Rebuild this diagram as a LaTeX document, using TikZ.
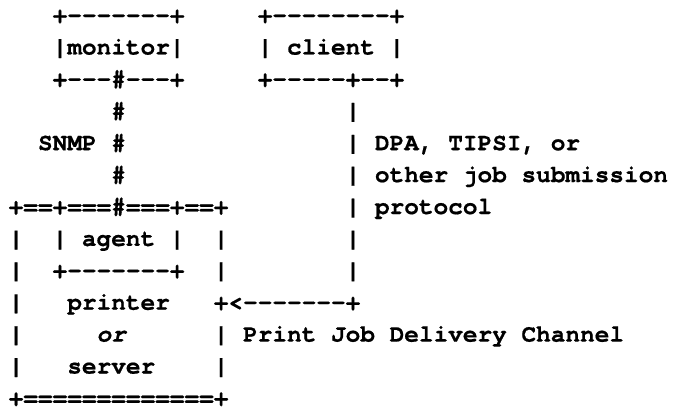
\documentclass[tikz,border=0pt]{standalone}
\usepackage{fontspec}
\setmonofont{texgyrecursor}[Extension=.otf, UprightFont=*-regular, BoldFont=*-bold, ItalicFont=*-italic, BoldItalicFont=*-bolditalic, BoldFeatures={FakeBold=0.6}, BoldItalicFeatures={FakeBold=0.6}]
\tikzset{
  txt/.style={anchor=base west, inner sep=0pt, outer sep=0pt, text depth=0pt, font=\ttfamily\bfseries\fontsize{24.42}{28}\selectfont, text=black},
  itxt/.style={txt, font=\ttfamily\bfseries\itshape\fontsize{24.42}{28}\selectfont}
}
\newcommand{\T}[5][txt]{\node[#1] (#2) at ({8.7+14.65*#3},{-(22.6+31.9*#4)}) {#5};}
\begin{document}
\begin{tikzpicture}[x=1pt,y=1pt]
\useasboundingbox[fill=white] (0,0) rectangle (674,-409);
% monitor box
\T{montop}{3}{0}{+-------+}
\T{monmid}{3}{1}{|monitor|}
\T{monbot}{3}{2}{+---\#---+}
% client box
\T{clitop}{17}{0}{+--------+}
\T{climid}{17}{1}{| client |}
\T{clibot}{17}{2}{+-----+--+}
% SNMP link
\T{snmpa}{7}{3}{\#}
\T{snmpb}{2}{4}{SNMP \#}
\T{snmpc}{7}{5}{\#}
% job submission link
\T{joba}{23}{3}{|}
\T{jobb}{23}{4}{| DPA, TIPSI, or}
\T{jobc}{23}{5}{| other job submission}
\T{jobd}{23}{6}{| protocol}
\T{jobe}{23}{7}{|}
\T{jobf}{23}{8}{|}
% printer box
\T{prtop}{0}{6}{+==+===\#===+==+}
\T{prla}{0}{7}{|}
\T{agmid}{3}{7}{| agent |}
\T{prra}{14}{7}{|}
\T{prlb}{0}{8}{|}
\T{agbot}{3}{8}{+-------+}
\T{prrb}{14}{8}{|}
\T{prlc}{0}{9}{|}
\T{printer}{4}{9}{printer}
\T{arrow}{14}{9}{+<-------+}
\T{prld}{0}{10}{|}
\T[itxt]{or}{6}{10}{or}
\T{channel}{14}{10}{| Print Job Delivery Channel}
\T{prle}{0}{11}{|}
\T{server}{4}{11}{server}
\T{prre}{14}{11}{|}
\T{prbot}{0}{12}{+=============+}
\end{tikzpicture}
\end{document}
